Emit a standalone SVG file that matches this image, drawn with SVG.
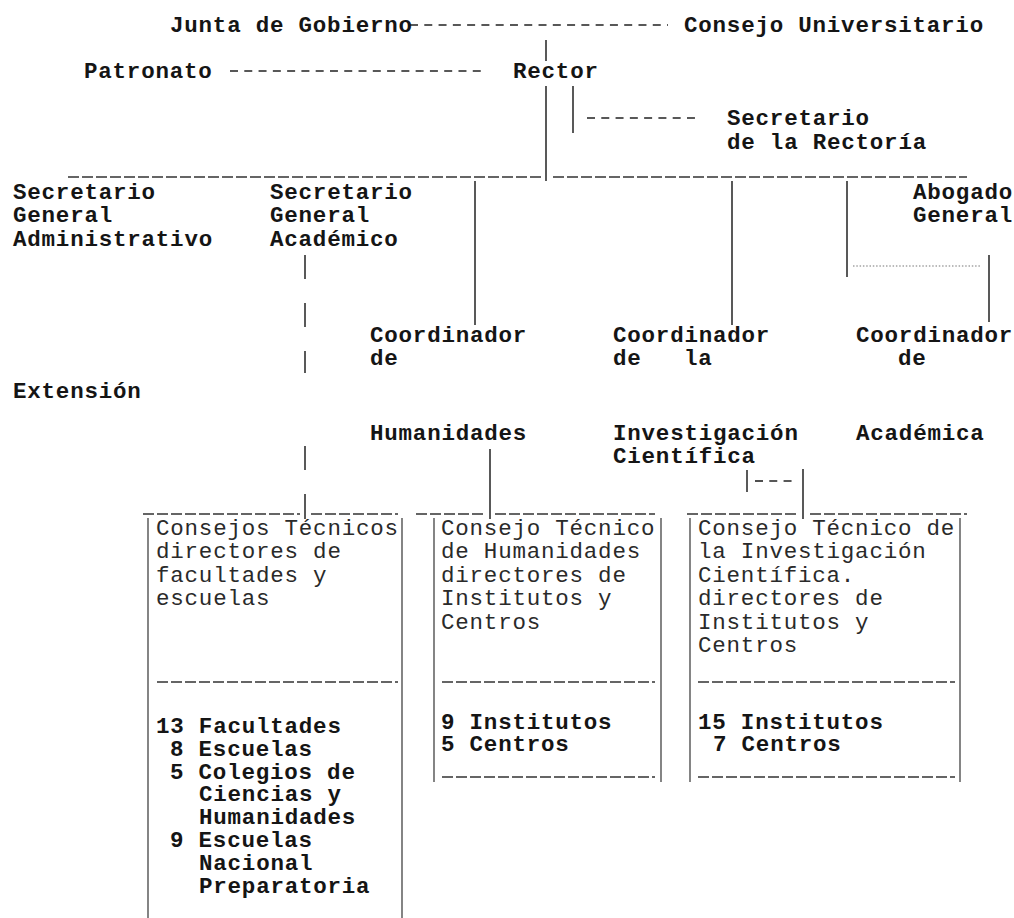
<svg xmlns="http://www.w3.org/2000/svg" width="1014" height="918" viewBox="0 0 1014 918">
<style>
text{font-family:"Liberation Mono","DejaVu Sans Mono",monospace;font-size:22.5px;letter-spacing:0.78px;fill:#151515}
.b{font-weight:bold}
.r{font-weight:normal;fill:#2a2a2a}
.ln{stroke:#222;stroke-width:1.5;fill:none}
.thin{stroke:#333;stroke-width:1.2;fill:none}
.dash{stroke:#222;stroke-width:1.6;stroke-dasharray:8 6.28;fill:none}
.under{stroke:#333;stroke-width:1.4;stroke-dasharray:11 3;fill:none}
.dot{stroke:#777;stroke-width:1.2;stroke-dasharray:1.5 1.8;fill:none}
</style>
<rect width="1014" height="918" fill="#fff"/>

<g id="connectors">
  <line class="dash" x1="410" y1="25" x2="668" y2="25"/>
  <line class="ln" x1="546" y1="40" x2="546" y2="61"/>
  <line class="dash" x1="230" y1="71" x2="486" y2="71"/>
  <line class="ln" x1="546" y1="86" x2="546" y2="181"/>
  <line class="ln" x1="573" y1="86" x2="573" y2="133"/>
  <line class="dash" x1="587" y1="118" x2="697" y2="118"/>
  <line class="under" x1="68" y1="177" x2="541" y2="177"/>
  <line class="under" x1="553" y1="177" x2="967" y2="177"/>
  <line class="ln" x1="475" y1="181" x2="475" y2="325"/>
  <line class="ln" x1="732" y1="181" x2="732" y2="325"/>
  <line class="ln" x1="847" y1="181" x2="847" y2="277"/>
  <line class="dot" x1="853" y1="266" x2="980" y2="266"/>
  <line class="ln" x1="989" y1="255" x2="989" y2="322"/>
  <line class="ln" x1="305" y1="255" x2="305" y2="279"/>
  <line class="ln" x1="305" y1="303" x2="305" y2="327"/>
  <line class="ln" x1="305" y1="351" x2="305" y2="373"/>
  <line class="ln" x1="305" y1="446" x2="305" y2="470"/>
  <line class="ln" x1="305" y1="494" x2="305" y2="519"/>
  <line class="ln" x1="490" y1="449" x2="490" y2="519"/>
  <line class="ln" x1="747" y1="470" x2="747" y2="492"/>
  <line class="dash" x1="755" y1="481" x2="797" y2="481"/>
  <line class="ln" x1="803" y1="469" x2="803" y2="519"/>
</g>

<g id="junta"><text class="b" x="170" y="32">Junta de Gobierno</text></g>
<g id="consejo-universitario"><text class="b" x="684" y="32">Consejo Universitario</text></g>
<g id="patronato"><text class="b" x="84" y="78">Patronato</text></g>
<g id="rector"><text class="b" x="513" y="78">Rector</text></g>
<g id="secretario-rectoria">
  <text class="b" x="727" y="125">Secretario</text>
  <text class="b" x="727" y="149">de la Rectoría</text>
</g>
<g id="sec-gen-admin">
  <text class="b" x="13" y="199">Secretario</text>
  <text class="b" x="13" y="222">General</text>
  <text class="b" x="13" y="246">Administrativo</text>
</g>
<g id="sec-gen-acad">
  <text class="b" x="270" y="199">Secretario</text>
  <text class="b" x="270" y="222">General</text>
  <text class="b" x="270" y="246">Académico</text>
</g>
<g id="abogado">
  <text class="b" x="913" y="199">Abogado</text>
  <text class="b" x="913" y="222">General</text>
</g>
<g id="coord-humanidades">
  <text class="b" x="370" y="342">Coordinador</text>
  <text class="b" x="370" y="365">de</text>
  <text class="b" x="370" y="440">Humanidades</text>
</g>
<g id="coord-investigacion">
  <text class="b" x="613" y="342">Coordinador</text>
  <text class="b" x="613" y="365">de</text>
  <text class="b" x="684" y="365">la</text>
  <text class="b" x="613" y="440">Investigación</text>
  <text class="b" x="613" y="463">Científica</text>
</g>
<g id="coord-academica">
  <text class="b" x="856" y="342">Coordinador</text>
  <text class="b" x="898" y="365">de</text>
  <text class="b" x="856" y="440">Académica</text>
</g>
<g id="extension"><text class="b" x="13" y="398">Extensión</text></g>

<g id="box-facultades">
  <line class="under" x1="143" y1="514" x2="300" y2="514"/>
  <line class="under" x1="311" y1="514" x2="398" y2="514"/>
  <line class="thin" x1="148" y1="518" x2="148" y2="918"/>
  <line class="thin" x1="402" y1="518" x2="402" y2="918"/>
  <text class="r" x="156" y="535">Consejos Técnicos</text>
  <text class="r" x="156" y="558">directores de</text>
  <text class="r" x="156" y="582">facultades y</text>
  <text class="r" x="156" y="605">escuelas</text>
  <line class="under" x1="157" y1="682" x2="398" y2="682"/>
  <text class="b" x="156" y="733">13 Facultades</text>
  <text class="b" x="170" y="756">8 Escuelas</text>
  <text class="b" x="170" y="779">5 Colegios de</text>
  <text class="b" x="199" y="801">Ciencias y</text>
  <text class="b" x="199" y="824">Humanidades</text>
  <text class="b" x="170" y="847">9 Escuelas</text>
  <text class="b" x="199" y="870">Nacional</text>
  <text class="b" x="199" y="893">Preparatoria</text>
</g>

<g id="box-humanidades">
  <line class="under" x1="416" y1="514" x2="486" y2="514"/>
  <line class="under" x1="495" y1="514" x2="655" y2="514"/>
  <line class="thin" x1="434" y1="518" x2="434" y2="782"/>
  <line class="thin" x1="661" y1="518" x2="661" y2="782"/>
  <text class="r" x="441" y="535">Consejo Técnico</text>
  <text class="r" x="441" y="558">de Humanidades</text>
  <text class="r" x="441" y="582">directores de</text>
  <text class="r" x="441" y="605">Institutos y</text>
  <text class="r" x="441" y="629">Centros</text>
  <line class="under" x1="442" y1="682" x2="655" y2="682"/>
  <text class="b" x="441" y="729">9 Institutos</text>
  <text class="b" x="441" y="751">5 Centros</text>
  <line class="under" x1="442" y1="777" x2="655" y2="777"/>
</g>

<g id="box-investigacion">
  <line class="under" x1="687" y1="514" x2="798" y2="514"/>
  <line class="under" x1="810" y1="514" x2="967" y2="514"/>
  <line class="thin" x1="690" y1="518" x2="690" y2="782"/>
  <line class="thin" x1="960" y1="518" x2="960" y2="782"/>
  <text class="r" x="698" y="535">Consejo Técnico de</text>
  <text class="r" x="698" y="558">la Investigación</text>
  <text class="r" x="698" y="582">Científica.</text>
  <text class="r" x="698" y="605">directores de</text>
  <text class="r" x="698" y="629">Institutos y</text>
  <text class="r" x="698" y="652">Centros</text>
  <line class="under" x1="698" y1="682" x2="955" y2="682"/>
  <text class="b" x="698" y="729">15 Institutos</text>
  <text class="b" x="713" y="751">7 Centros</text>
  <line class="under" x1="698" y1="777" x2="955" y2="777"/>
</g>
</svg>
